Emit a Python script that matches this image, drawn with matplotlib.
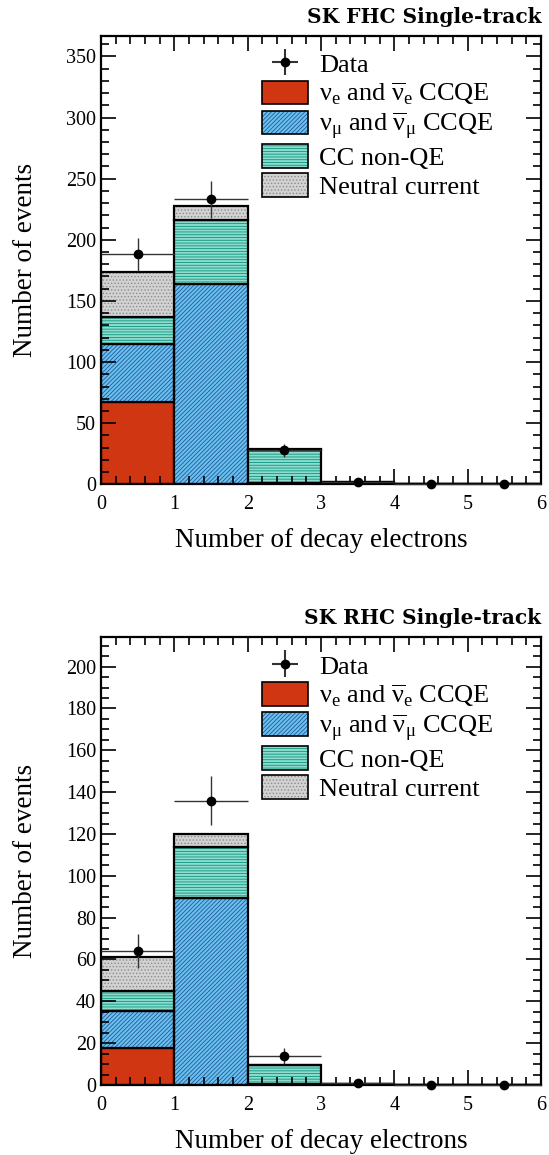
import numpy as np
import matplotlib
matplotlib.use("Agg")
from matplotlib import pyplot as plt
from matplotlib.patches import Patch
from matplotlib.ticker import MultipleLocator

plt.rcParams['font.family'] = ['Liberation Serif', 'DejaVu Serif']
plt.rcParams['mathtext.fontset'] = 'custom'
plt.rcParams['mathtext.rm'] = 'Liberation Serif'
plt.rcParams['mathtext.it'] = 'Liberation Serif:italic'
plt.rcParams['hatch.linewidth'] = 0.6

edges = [0, 1, 2, 3, 4, 5, 6]

# FHC sample
fhc_nue = [67, 0, 0.3, 0, 0, 0]
fhc_numu = [48, 164, 1, 0.5, 0, 0]
fhc_ccnqe = [22, 52, 27, 1, 0, 0]
fhc_nc = [37, 12, 0.6, 0, 0, 0]
fhc_data = [188, 233, 28, 2, 0, 0]

# RHC sample
rhc_nue = [17.5, 0, 0, 0, 0, 0]
rhc_numu = [18, 89.6, 0.5, 0, 0, 0]
rhc_ccnqe = [9.5, 24.4, 9, 0.5, 0, 0]
rhc_nc = [16, 5.8, 0.3, 0, 0, 0]
rhc_data = [64, 136, 14, 1, 0, 0]

labels = [r'$\mathregular{\nu_e}$ and $\mathregular{\overline{\nu}_e}$ CCQE',
          r'$\mathregular{\nu_\mu}$ and $\mathregular{\overline{\nu}_\mu}$ CCQE',
          'CC non-QE', 'Neutral current']
faces = ['#d13613', '#6cc0f0', '#8edccd', '#d2d2d2']
hatchcols = ['#d13613', '#1f5a96', '#0c9480', '#8c8c8c']
hatches = [None, '////////', '------', '.....']


def draw(ax, comps, data, ymax, major, minor, title):
    centers = np.array(edges[:-1]) + 0.5
    bottom = np.zeros(len(centers))
    for vals, fc, hc, h in zip(comps, faces, hatchcols, hatches):
        vals = np.array(vals, dtype=float)
        ax.bar(centers, vals, width=1.0, bottom=bottom, color=fc,
               edgecolor=hc, hatch=h, linewidth=0)
        ax.bar(centers, vals, width=1.0, bottom=bottom, fill=False,
               edgecolor='black', linewidth=1.6)
        bottom = bottom + vals
    d = np.array(data, dtype=float)
    ax.errorbar(centers, d, xerr=0.5, yerr=np.sqrt(d), fmt='o', color='black',
                ecolor='#333333', elinewidth=1.0, markersize=6, clip_on=False,
                zorder=5)
    ax.set_xlim(0, 6)
    ax.set_ylim(0, ymax)
    ax.xaxis.set_major_locator(MultipleLocator(1))
    ax.xaxis.set_minor_locator(MultipleLocator(0.2))
    ax.yaxis.set_major_locator(MultipleLocator(major))
    ax.yaxis.set_minor_locator(MultipleLocator(minor))
    ax.tick_params(which='both', direction='in', top=True, right=True,
                   labelsize=14.5, width=1.2)
    ax.tick_params(which='major', length=11)
    ax.tick_params(which='minor', length=6)
    ax.tick_params(axis='x', pad=8)
    for s in ax.spines.values():
        s.set_linewidth(1.6)
    ax.set_xlabel('Number of decay electrons', fontsize=19.5, labelpad=10)
    ax.set_ylabel('Number of events', fontsize=19.5, labelpad=20)
    ax.text(1.0, 1.02, title, transform=ax.transAxes, ha='right', va='bottom',
            fontsize=14.5, family='DejaVu Serif', fontweight='bold')

    hd = ax.errorbar([], [], xerr=[], yerr=[], fmt='o', color='black',
                     ecolor='#333333', markersize=6)
    handles = [hd]
    for fc, hc, h in zip(faces, hatchcols, hatches):
        handles.append((Patch(facecolor=fc, edgecolor=hc, hatch=h, linewidth=0),
                        Patch(fill=False, edgecolor='black', linewidth=1.2)))
    ax.legend(handles, ['Data'] + labels, loc='upper left',
              bbox_to_anchor=(0.33, 1.0), frameon=False, fontsize=19,
              handlelength=1.75, handleheight=1.0, handletextpad=0.4,
              labelspacing=0.12, borderaxespad=0.2)


fig = plt.figure(figsize=(5.49, 11.55), dpi=100)
ax1 = fig.add_axes([0.184, 0.5807, 0.8015, 0.3884])
ax2 = fig.add_axes([0.184, 0.0606, 0.8015, 0.3876])

draw(ax1, [fhc_nue, fhc_numu, fhc_ccnqe, fhc_nc], fhc_data, 367, 50, 10,
     'SK FHC Single-track')
draw(ax2, [rhc_nue, rhc_numu, rhc_ccnqe, rhc_nc], rhc_data, 214, 20, 5,
     'SK RHC Single-track')

fig.savefig('out.png', dpi=100)
